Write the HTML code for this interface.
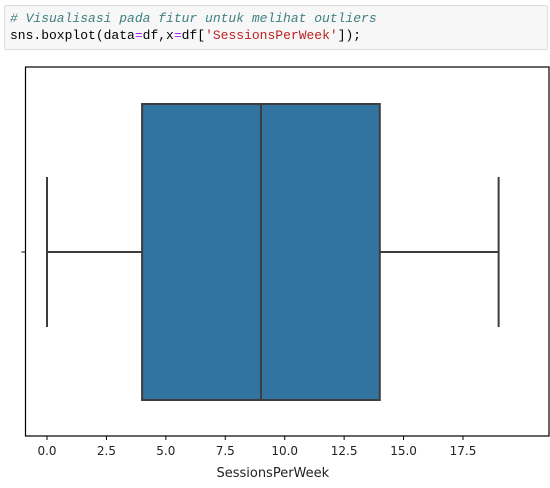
<!DOCTYPE html>
<html><head><meta charset="utf-8"><style>
body{margin:0;width:550px;height:488px;background:#fff;overflow:hidden;position:relative;font-family:"DejaVu Sans","Liberation Sans",sans-serif}
#cell{position:absolute;left:4px;top:5px;width:544px;height:45px;background:#f7f7f7;border:1px solid #dcdcdc;border-radius:2px;font-family:"Liberation Mono","DejaVu Sans Mono",monospace;font-size:13px;line-height:17px;padding:4px 0 0 5px;box-sizing:border-box;color:#000;white-space:pre}
.c{color:#408080;font-style:italic}.o{color:#aa22ff}.s{color:#ba2121}
</style></head><body>
<div id="cell"><span class="c"># Visualisasi pada fitur untuk melihat outliers</span>
sns.boxplot(data<span class="o">=</span>df,x<span class="o">=</span>df[<span class="s">'SessionsPerWeek'</span>]);</div>
<svg id="chart" width="550" height="488" style="position:absolute;left:0;top:0"></svg>
<script>
const ticks=[0,2.5,5,7.5,10,12.5,15,17.5];
const tickLabels=["0.0","2.5","5.0","7.5","10.0","12.5","15.0","17.5"];
const stats=[0,4,9,14,19]; // min,q1,median,q3,max
const NS="http://www.w3.org/2000/svg";
const svg=document.getElementById('chart');
const x=v=>47+v*23.77;
const L=25.5,R=549,T=67,B=436,cy=252;
function el(t,a){const e=document.createElementNS(NS,t);for(const k in a)e.setAttribute(k,a[k]);svg.appendChild(e);return e;}
const frame=el('rect',{x:L,y:T,width:R-L,height:B-T,fill:'none',stroke:'#000','stroke-width':1.2});


const yt=el('line',{x1:L-4,x2:L,y1:cy,y2:cy,stroke:'#000','stroke-width':1});


ticks.forEach((t,i)=>{
 const l=el('line',{x1:x(t),x2:x(t),y1:B,y2:B+4,stroke:'#000','stroke-width':1});
 
 
 const tx=el('text',{x:x(t),y:B+19,'text-anchor':'middle','font-size':'12px',fill:'#222','font-family':'DejaVu Sans, sans-serif'});
 tx.textContent=tickLabels[i];
 
 
});
const xl=el('text',{x:x(9.5),y:B+41,'text-anchor':'middle','font-size':'13px',fill:'#222','font-family':'DejaVu Sans, sans-serif'});
xl.textContent='SessionsPerWeek';


const c='#3d3d3d',bt=104,bb=400,wt=177,wb=327;
const w1=el('line',{x1:x(stats[0]),x2:x(stats[1]),y1:cy,y2:cy,stroke:c,'stroke-width':2});


const w2=el('line',{x1:x(stats[3]),x2:x(stats[4]),y1:cy,y2:cy,stroke:c,'stroke-width':2});


const c1=el('line',{x1:x(stats[0]),x2:x(stats[0]),y1:wt,y2:wb,stroke:c,'stroke-width':2});


const c2=el('line',{x1:x(stats[4]),x2:x(stats[4]),y1:wt,y2:wb,stroke:c,'stroke-width':2});


const box=el('rect',{x:x(stats[1]),y:bt,width:x(stats[3])-x(stats[1]),height:bb-bt,fill:'#3274a1',stroke:c,'stroke-width':2});


const md=el('line',{x1:x(stats[2]),x2:x(stats[2]),y1:bt,y2:bb,stroke:c,'stroke-width':2});


</script>
</body></html>
